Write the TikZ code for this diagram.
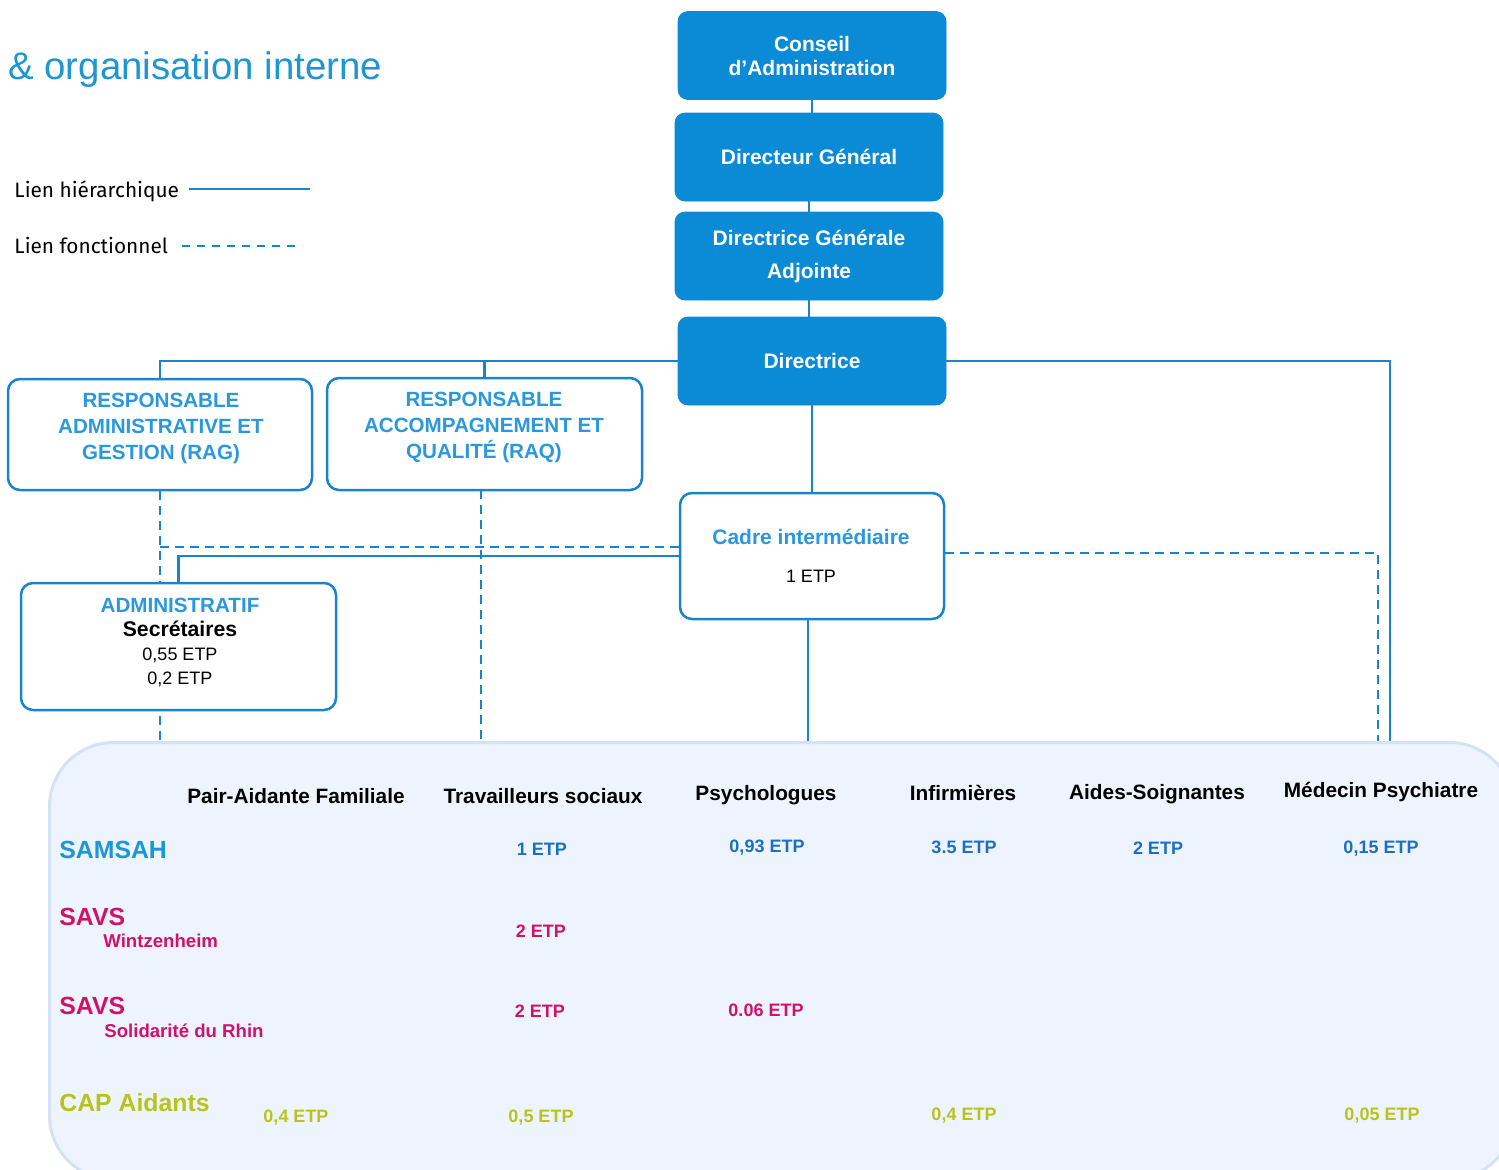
\documentclass[tikz,border=0pt]{standalone}
\usepackage{fontspec}
\setmainfont{Liberation Sans}
\newfontfamily\legendfont{Fira Sans}
\usetikzlibrary{calc}
\pgfdeclarelayer{bg}
\pgfsetlayers{bg,main}

\definecolor{boxblue}{HTML}{0B8AD5}
\definecolor{lineblue}{HTML}{1884CE}
\definecolor{titleblue}{HTML}{1C96D4}
\definecolor{respblue}{HTML}{2A98DC}
\definecolor{etpblue}{HTML}{1C6FC2}
\definecolor{savsred}{HTML}{D1126B}
\definecolor{capgreen}{HTML}{B6C41C}
\definecolor{panelfill}{HTML}{EEF4FD}
\definecolor{panelline}{HTML}{D4E2F6}

\newcommand{\fsz}[2]{\fontsize{#1}{#2}\selectfont}

\begin{document}
\begin{tikzpicture}[x=0.5pt,y=-0.5pt,
  bluebox/.style={fill=boxblue, draw=boxblue, rounded corners=5pt,
    minimum width=134pt, minimum height=44pt, inner sep=0pt,
    text=white, align=center, font=\bfseries\fsz{10.5}{12}},
  outbox/.style={draw=lineblue, line width=1.25pt, fill=white,
    rounded corners=6pt, inner sep=0pt},
  hier/.style={draw=lineblue, line width=1.4pt},
  func/.style={draw=lineblue, line width=1.2pt, dash pattern=on 4.5pt off 3pt},
  resp/.style={text=respblue, align=center, font=\bfseries\fsz{10.3}{12.8}, inner sep=0pt},
  head/.style={font=\bfseries\fsz{10.4}{12}, inner sep=0pt},
  rowlab/.style={font=\bfseries\fsz{12.4}{14}, anchor=west, inner sep=0pt},
  sublab/.style={font=\bfseries\fsz{9.3}{11}, anchor=west, inner sep=0pt},
  etp/.style={font=\bfseries\fsz{9}{11}, inner sep=0pt},
  legtext/.style={anchor=west, inner sep=0pt, font=\legendfont\fsz{10.4}{12}},
  panelbox/.style={fill=panelfill, draw=panelline, line width=1.5pt,
    rounded corners=32pt, anchor=north west, inner sep=0pt}
]
\useasboundingbox (0,0) rectangle (1499,1169);

% title and legend
\node[anchor=base west, inner sep=0pt, text=titleblue, font=\fsz{19.2}{22}] (title) at (8,79) {\& organisation interne};
\node[legtext] (lg1) at (14,191) {Lien hiérarchique};
\node[legtext] (lg2) at (14,246) {Lien fonctionnel};
\coordinate (lg1a) at (189,189);
\coordinate (lg1b) at (310,189);
\coordinate (lg2a) at (182,246);
\coordinate (lg2b) at (302,246);
\draw[draw=lineblue, line width=1pt] (lg1a) -- (lg1b);
\draw[draw=lineblue, line width=1.2pt, dash pattern=on 4pt off 3.5pt] (lg2a) -- (lg2b);

% governance chain
\node[bluebox] (ca) at (812,55.5) {Conseil\\d’Administration};
\node[bluebox] (dg) at (809,157) {Directeur Général};
\node[bluebox, font=\bfseries\fsz{10.5}{16.5}] (dga) at (809,256) {Directrice Générale\\Adjointe};
\node[bluebox] (dir) at (812,361) {Directrice};

% managers
\node[outbox, minimum width=152pt, minimum height=55.5pt] (rag) at (160,434.5) {};
\node[resp] (ragt) at (161,428.5) {RESPONSABLE\\ADMINISTRATIVE ET\\GESTION (RAG)};
\node[outbox, minimum width=157.5pt, minimum height=56pt] (raq) at (484.5,434) {};
\node[resp, font=\bfseries\fsz{10.3}{13}] (raqt) at (484,427.5) {RESPONSABLE\\ACCOMPAGNEMENT ET\\QUALITÉ (RAQ)};

\node[outbox, minimum width=157.5pt, minimum height=63.5pt] (admin) at (178.5,646.5) {};
\node[inner sep=0pt, align=center, font=\fsz{9}{12}] (admint) at (180,642.5)
  {{\bfseries\fsz{10.3}{12}\color{respblue}ADMINISTRATIF}\\{\bfseries\fsz{10.6}{12}Secrétaires}\\0,55 ETP\\0,2 ETP};

\node[outbox, minimum width=132pt, minimum height=63pt] (cadre) at (812,556) {};
\node[inner sep=0pt, text=respblue, font=\bfseries\fsz{10.5}{12}] (cadret) at (811,537) {Cadre intermédiaire};
\node[inner sep=0pt, font=\fsz{9}{11}] (cadree) at (811,576) {1 ETP};

% staff panel and links
\begin{pgfonlayer}{bg}
\node[panelbox, minimum width=732pt, minimum height=218.5pt] (panel) at (48,741) {};
\draw[hier] (ca.south) -- (ca.south |- dg.north);
\draw[hier] (dg.south) -- (dg.south |- dga.north);
\draw[hier] (dga.south) -- (dga.south |- dir.north);
\draw[hier] (dir.west) -| (rag.north);
\draw[hier] (dir.west) -| (raq.north);
\coordinate (hr) at (1390,741);
\draw[hier] (dir.east) -| (hr);
\draw[hier] (dir.south) -- (dir.south |- cadre.north);
\coordinate (cs) at (808,619);
\draw[hier] (cs) -- (cs |- panel.north);
\draw[hier] (cadre.west) -| (admin.north);
\draw[func] (rag.south) -- (rag.south |- panel.north);
\coordinate (raqs) at (481,490);
\draw[func] (raqs) -- (raqs |- panel.north);
\coordinate (fh) at ($(cadre.west)+(0,-9)$);
\draw[func] (fh) -- (fh -| rag.south);
\coordinate (fr) at (1378,741);
\draw[func] ($(cadre.east)+(0,-3)$) -| (fr);
\end{pgfonlayer}

% column headings
\node[head] (h1) at (296,796) {Pair-Aidante Familiale};
\node[head] (h2) at (543,796) {Travailleurs sociaux};
\node[head] (h3) at (766,795) {Psychologues};
\node[head] (h4) at (963,793) {Infirmières};
\node[head] (h5) at (1157,794) {Aides-Soignantes};
\node[head] (h6) at (1381,792) {Médecin Psychiatre};

% rows
\node[rowlab, text=titleblue] (r1) at (59,850) {SAMSAH};
\node[rowlab, text=savsred] (r2) at (59,917) {SAVS};
\node[sublab, text=savsred] (r2s) at (103,941) {Wintzenheim};
\node[rowlab, text=savsred] (r3) at (59,1006) {SAVS};
\node[sublab, text=savsred] (r3s) at (104,1031) {Solidarité du Rhin};
\node[rowlab, text=capgreen] (r4) at (59,1103) {CAP Aidants};

% staffing values
\node[etp, text=etpblue] (v12) at (542,849) {1 ETP};
\node[etp, text=etpblue] (v13) at (767,848) {0,93 ETP};
\node[etp, text=etpblue] (v14) at (964,847) {3.5 ETP};
\node[etp, text=etpblue] (v15) at (1158,848) {2 ETP};
\node[etp, text=etpblue] (v16) at (1381,849) {0,15 ETP};
\node[etp, text=savsred] (v22) at (541,931) {2 ETP};
\node[etp, text=savsred] (v32) at (540,1011) {2 ETP};
\node[etp, text=savsred] (v33) at (766,1010) {0.06 ETP};
\node[etp, text=capgreen] (v41) at (296,1118) {0,4 ETP};
\node[etp, text=capgreen] (v42) at (541,1118) {0,5 ETP};
\node[etp, text=capgreen] (v44) at (964,1116) {0,4 ETP};
\node[etp, text=capgreen] (v46) at (1382,1116) {0,05 ETP};
\end{tikzpicture}
\end{document}
